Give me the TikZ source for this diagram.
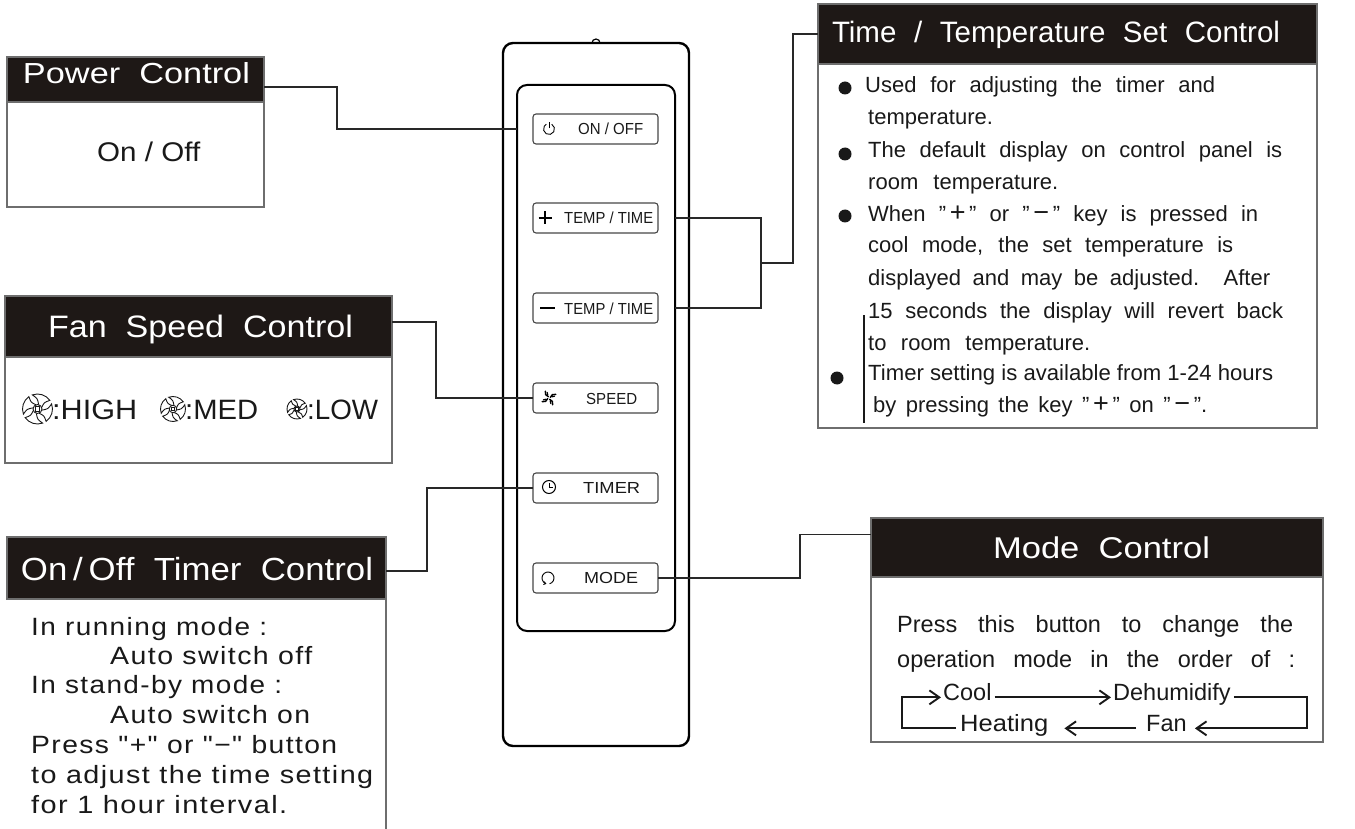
\documentclass[tikz,border=0pt]{standalone}
\usepackage{fontspec}
\setmainfont{Liberation Sans}
\newfontfamily\lsfont[LetterSpace=5]{Liberation Sans}
\usetikzlibrary{arrows.meta,calc}
\newcommand\fs[1]{\fontsize{#1}{#1}\selectfont}
\newcommand\rw[2]{\resizebox{#1pt}{\height}{#2}}
\newcommand\sw[2]{\makebox[#1pt][s]{#2}}
\newcommand\sy[1]{{\fontsize{27}{27}\selectfont #1}}
\definecolor{hdrc}{RGB}{30,24,22}
\definecolor{boxc}{RGB}{110,110,110}
\definecolor{connc}{RGB}{40,40,40}
\definecolor{txtc}{RGB}{25,25,25}
\definecolor{btnc}{RGB}{70,70,70}
\newcommand\fanicon[3]{%
  \begin{scope}[shift={(#1,#2)}, scale=#3, line width=0.9pt, draw=txtc]
    \foreach \k in {0,90,180,270}{
      \draw[rotate=\k] (15:0.3) .. controls (0:0.7) .. (-20:1) arc[start angle=-20,end angle=55,radius=1] .. controls (45:0.62) .. (70:0.3);
    }
    \draw (0,0) circle (0.3);
    \draw (-0.14,-0.14) rectangle (0.14,0.14);
  \end{scope}}
\begin{document}
\begin{tikzpicture}[x=1pt,y=-1pt,
  hdr/.style={fill=hdrc, draw=boxc, line width=1.2pt, inner sep=0pt, outer sep=0pt, anchor=north west},
  bodyb/.style={draw=boxc, line width=1.2pt, inner sep=0pt, outer sep=0pt, anchor=north west},
  htxt/.style={text=white, inner sep=0pt, anchor=base},
  btxt/.style={text=txtc, inner sep=0pt, anchor=base west},
  conn/.style={draw=connc, line width=1.3pt},
  btn/.style={draw=btnc, line width=1.1pt, rounded corners=3pt, inner sep=0pt, outer sep=0pt, anchor=north west, minimum width=125pt, minimum height=30pt},
  blab/.style={inner sep=0pt, anchor=base west, text=txtc},
  mc/.style={draw=txtc, line width=1.8pt},
  mtip/.style={-{Straight Barb[length=10pt,width=14pt,line width=1.9pt]}},
  bul/.style={fill=txtc},
]
\useasboundingbox (0,0) rectangle (1355,829);

% ---------- Remote ----------
\draw[line width=2.4pt, rounded corners=10pt] (503,43) rectangle (689,746);
\draw[line width=1.2pt] (592,43) arc[start angle=180,end angle=360,radius=4];
\node[draw, line width=2pt, rounded corners=10pt, minimum width=158pt, minimum height=546pt,
      anchor=north west, inner sep=0pt, outer sep=0pt] (inner) at (517,85) {};

\node[btn] (bon) at (533,114) {};
\node[btn] (bpt) at (533,203) {};
\node[btn] (bmt) at (533,293) {};
\node[btn] (bsp) at (533,383) {};
\node[btn] (btm) at (533,473) {};
\node[btn] (bmd) at (533,563) {};

\node[blab] (lon) at (578,135) {\fs{16}\rw{65}{ON / OFF}};
\node[blab] (lpt) at (564,224) {\fs{16}\rw{89}{TEMP / TIME}};
\node[blab] (lmt) at (564,314) {\fs{16}\rw{89}{TEMP / TIME}};
\node[blab] (lsp) at (586,404) {\fs{16}\rw{51}{SPEED}};
\node[blab] (ltm) at (583,493.5) {\fs{16}\rw{57}{TIMER}};
\node[blab] (lmd) at (584,583.5) {\fs{16}\rw{54}{MODE}};

% icons
\begin{scope}[shift={(549,129)}, yscale=-1, line width=0.9pt]
  \draw (60:5.5) arc[start angle=60,end angle=-240,radius=5.5];
  \draw (0,0.5) -- (0,7);
\end{scope}
\draw[line width=1.6pt] (538.5,218) -- (551.5,218) (545,211.5) -- (545,224.5);
\draw[line width=1.6pt] (540,308) -- (555,308);
\begin{scope}[shift={(549,398)}, yscale=-1]
  \foreach \k in {0,90,180,270}{
    \draw[rotate=\k, line width=1.5pt, line cap=round] (1.3,0.6) .. controls (2.5,3) and (4,4.5) .. (6.8,3.6);
    \draw[rotate=\k, line width=1.1pt, line cap=round] (3.2,1.2) -- (5.6,1.8);
  }
\end{scope}
\begin{scope}[shift={(549,487)}, yscale=-1, line width=1pt]
  \draw (0,0) circle (6.5);
  \draw (0,4.5) -- (0,0) -- (3.5,0);
\end{scope}
\begin{scope}[shift={(548,578)}, yscale=-1, line width=0.9pt]
  \draw[-{Straight Barb[length=2pt,width=3pt]}] (-75:6) arc[start angle=-75,end angle=255,radius=6];
\end{scope}

% ---------- Power Control ----------
\node[bodyb, minimum width=257pt, minimum height=105pt] (pwbody) at (7,102) {};
\node[hdr, minimum width=257pt, minimum height=45pt] (pwhead) at (7,57) {};
\node[htxt] (pwt) at (136.5,83.5) {\fs{29}\rw{227}{Power\ \ Control}};
\node[btxt] (pwon) at (97,162) {\fs{27}\rw{103}{On / Off}};

% ---------- Time / Temperature ----------
\node[bodyb, minimum width=499pt, minimum height=364pt] (ttbody) at (818,64) {};
\node[hdr, minimum width=499pt, minimum height=60pt] (tthead) at (818,4) {};
\node[htxt] (ttt) at (1056,42.5) {\fs{29.5}\sw{448}{Time / Temperature Set Control}};
\begin{scope}[every node/.style={btxt}]
\node (t1) at (865,93) {\fs{22}\sw{350}{Used for adjusting the timer and}};
\node (t2) at (868,125) {\fs{22}temperature.};
\node (t3) at (868,158) {\fs{22}\sw{414}{The default display on control panel is}};
\node (t4) at (868,190) {\fs{22}\sw{190}{room temperature.}};
\node (t5) at (868,222) {\fs{22}\sw{390}{When "\,\sy{+}\," or "\,\sy{−}\," key is pressed in}};
\node (t6) at (868,253) {\fs{22}\sw{365}{cool mode, the set temperature is}};
\node (t7) at (868,285) {\fs{22}\sw{402}{displayed and may be adjusted. After}};
\node (t8) at (868,318) {\fs{22}\sw{415}{15 seconds the display will revert back}};
\node (t9) at (868,350) {\fs{22}\sw{222}{to room temperature.}};
\node (t10) at (868,380) {\fs{22}\rw{405}{Timer setting is available from 1-24 hours}};
\node (t11) at (873,412) {\fs{22}\sw{334}{by pressing the key "\,\sy{+}\," on "\,\sy{−}\,".}};
\end{scope}
\fill[bul] (845,88) circle (6.5);
\fill[bul] (845,154) circle (6.5);
\fill[bul] (845,216) circle (6.5);
\fill[bul] (837,378) circle (6.5);
\draw[line width=1.1pt, draw=txtc] (864,315) -- (864,423);

% ---------- Fan Speed ----------
\node[bodyb, minimum width=387pt, minimum height=106pt] (fanbody) at (5,357) {};
\node[hdr, minimum width=387pt, minimum height=61pt] (fanhead) at (5,296) {};
\node[htxt] (fant) at (200.5,337.5) {\fs{31}\rw{305}{Fan\ \ Speed\ \ Control}};
\fanicon{37.5}{409}{15}
\fanicon{173}{409}{12.5}
\fanicon{297}{409}{10}
\node[btxt] (fh) at (52,419) {\fs{28}\rw{85}{:HIGH}};
\node[btxt] (fm) at (185,419) {\fs{28}\rw{73}{:MED}};
\node[btxt] (fl) at (307,419) {\fs{28}\rw{71}{:LOW}};

% ---------- On/Off Timer ----------
\draw[draw=boxc, line width=1.2pt] (386,599) -- (386,835);
\node[hdr, minimum width=379pt, minimum height=62pt] (tmhead) at (7,537) {};
\node[htxt] (tmt) at (197,580.5) {\fs{32}\rw{352}{On\,/\,Off\ \ Timer\ \ Control}};
\begin{scope}[every node/.style={btxt}]
\node (m1) at (31,635) {\lsfont\fs{25}\rw{236}{In running mode :}};
\node (m2) at (110,664) {\lsfont\fs{25}\rw{202}{Auto switch off}};
\node (m3) at (31,693) {\lsfont\fs{25}\rw{251}{In stand-by mode :}};
\node (m4) at (110,723) {\lsfont\fs{25}\rw{200}{Auto switch on}};
\node (m5) at (31,753) {\lsfont\fs{25}\rw{306}{Press "+" or "−" button}};
\node (m6) at (31,783) {\lsfont\fs{25}\rw{342}{to adjust the time setting}};
\node (m7) at (31,813) {\lsfont\fs{25}\rw{256}{for 1 hour interval.}};
\end{scope}

% ---------- Mode Control ----------
\node[bodyb, minimum width=452pt, minimum height=165pt] (mdbody) at (871,577) {};
\node[hdr, minimum width=452pt, minimum height=59pt] (mdhead) at (871,518) {};
\node[htxt] (mdt) at (1101.5,558) {\fs{30}\rw{217}{Mode\ \ Control}};
\node[btxt] (md1) at (897,632) {\fs{23.5}\sw{396}{Press this button to change the}};
\node[btxt] (md2) at (897,667) {\fs{23.5}\sw{398}{operation mode in the order of :}};
\node[btxt] (cool) at (943,700) {\fs{23.5}Cool};
\node[btxt] (dehum) at (1113,700) {\fs{23.5}Dehumidify};
\node[btxt] (heat) at (960,731) {\fs{23.5}\rw{88}{Heating}};
\node[btxt] (fan) at (1146,731) {\fs{23.5}Fan};
\coordinate (lft) at (902,0);
\coordinate (rgt) at (1307,0);
\draw[mc, mtip] ($(heat.mid west)+(-4,0)$) -| (lft |- cool.mid west) -- ($(cool.mid west)+(-2,0)$);
\draw[mc, mtip] ($(cool.mid east)+(3,0)$) -- ($(dehum.mid west)+(-2,0)$);
\draw[mc, mtip] ($(dehum.mid east)+(3,0)$) -| (rgt |- fan.mid east) -- ($(fan.mid east)+(8,0)$);
\draw[mc, mtip] ($(fan.mid west)+(-10,0)$) -- ($(heat.mid east)+(16,0)$);

% ---------- Connectors ----------
\coordinate (pj) at (337,0);
\coordinate (tj) at (761,0);
\coordinate (tk) at (793,0);
\coordinate (fj) at (436,0);
\coordinate (mj) at (427,0);
\coordinate (oj) at (800,0);
\draw[conn] ($(pwhead.east)+(0,7.5)$) -| (pj |- bon.west) -- (inner.west |- bon.west);
\draw[conn] (inner.east |- bpt.east) -| (tj |- bmt.east) -- (inner.east |- bmt.east);
\draw[conn] ($(tj |- bpt.east)!0.5!(tj |- bmt.east)$) -| (tk |- tthead.west) -- (tthead.west);
\draw[conn] ($(fanhead.east)+(0,-4.5)$) -| (fj |- bsp.west) -- (bsp.west);
\draw[conn] ($(tmhead.east)+(0,3)$) -| (mj |- btm.west) -- (btm.west);
\draw[conn] (bmd.east) -| ($(oj |- mdhead.west)+(0,-13)$) -- ($(mdhead.west)+(0,-13)$);
\end{tikzpicture}
\end{document}
